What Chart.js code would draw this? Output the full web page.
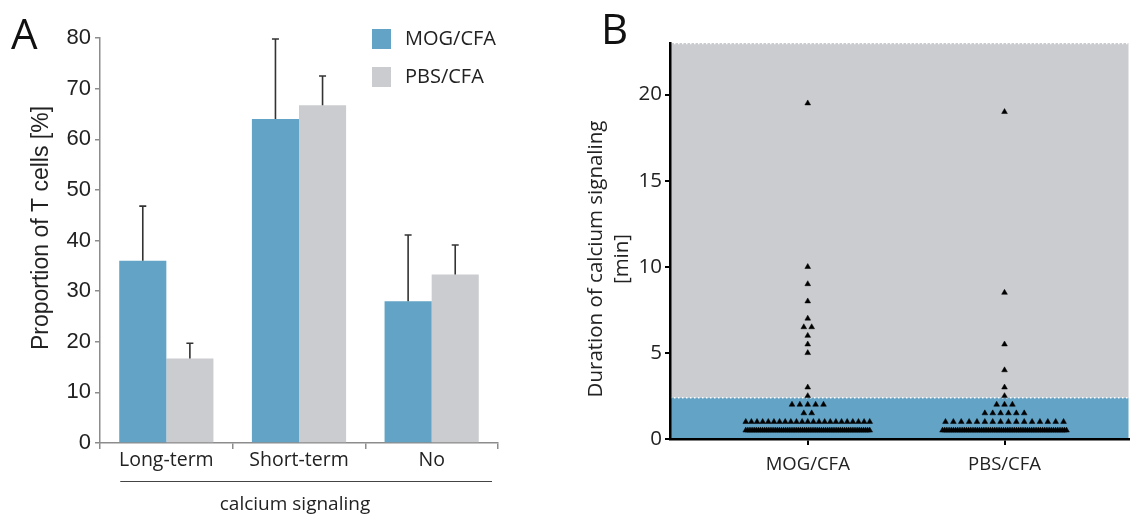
<!DOCTYPE html>
<html>
<head>
<meta charset="utf-8">
<script src="https://cdn.jsdelivr.net/npm/chart.js@4.4.1/dist/chart.umd.min.js"></script>
<style>
  html, body { margin: 0; padding: 0; background: #fff; }
  body { width: 1133px; height: 521px; position: relative; overflow: hidden; }
  .panel { position: absolute; top: 0; height: 521px; }
  #panelA { left: 0; width: 565px; }
  #panelB { left: 565px; width: 568px; }
  .tag { position: absolute; font-family: "Open Sans", sans-serif; font-size: 42px; line-height: 1; color: #111; }
</style>
</head>
<body>
<div class="panel" id="panelA"><canvas id="proportionChart" width="565" height="521"></canvas></div>
<div class="panel" id="panelB"><canvas id="durationChart" width="568" height="521"></canvas></div>
<div class="tag" style="left:11px; top:12px;">A</div>
<div class="tag" style="left:601px; top:7px;">B</div>
<script>
// proportion of T cells per signaling class (mean and SD)
const signalClasses = ['Long-term', 'Short-term', 'No'];
const mogMeans = [36, 64, 28];
const mogSD = [10.8, 15.8, 13.1];
const pbsMeans = [16.7, 66.7, 33.3];
const pbsSD = [3.0, 5.8, 5.8];
const proportionTicks = [0, 10, 20, 30, 40, 50, 60, 70, 80];

// duration of calcium signaling [min]: distinct values and how many cells share each
const groupNames = ['MOG/CFA', 'PBS/CFA'];
const mogDurations = [19.5, 10, 9, 8, 7, 6.5, 6, 5.5, 5, 3, 2.5, 2, 1.5, 1, 0.5];
const mogCounts    = [1,    1,  1, 1, 1, 2,   1, 1,   1, 1, 1,   5, 2,   23, 60];
const pbsDurations = [19, 8.5, 5.5, 4, 3, 2.5, 2, 1.5, 1, 0.5];
const pbsCounts    = [1,  1,   1,   1, 1, 1,   3, 6,   16, 58];
const durationTicks = [0, 5, 10, 15, 20];
const longTermCutoff = 2.4;

const BLUE = '#62a3c6';
const GREY = '#cbcccf';

// ---------- panel A ----------
const errorBars = {
  id: 'errorBars',
  afterDatasetsDraw(chart) {
    const ctx = chart.ctx;
    const y = chart.scales.y;
    const sds = [mogSD, pbsSD];
    ctx.save();
    ctx.strokeStyle = '#333';
    ctx.lineWidth = 1.6;
    chart.data.datasets.forEach((ds, di) => {
      chart.getDatasetMeta(di).data.forEach((bar, i) => {
        const top = y.getPixelForValue(ds.data[i] + sds[di][i]);
        ctx.beginPath();
        ctx.moveTo(bar.x, bar.y);
        ctx.lineTo(bar.x, top);
        ctx.moveTo(bar.x - 3.5, top);
        ctx.lineTo(bar.x + 3.5, top);
        ctx.stroke();
      });
    });
    ctx.restore();
  }
};

const panelADecor = {
  id: 'panelADecor',
  afterDraw(chart) {
    const ctx = chart.ctx;
    const area = chart.chartArea;
    ctx.save();
    // legend
    ctx.font = '20px "Open Sans"';
    ctx.textBaseline = 'middle';
    chart.data.datasets.forEach((ds, i) => {
      const cy = 39 + i * 38;
      ctx.fillStyle = ds.backgroundColor;
      ctx.fillRect(372, cy - 10, 19, 20);
      ctx.fillStyle = '#222';
      ctx.fillText(ds.label, 405, cy);
    });
    // bracket under the categories
    const first = chart.getDatasetMeta(0).data[0];
    const x0 = first.x - first.width / 2 + 1;
    const x1 = area.right - 6;
    ctx.strokeStyle = '#444';
    ctx.lineWidth = 1.2;
    ctx.beginPath();
    ctx.moveTo(x0, 481.5);
    ctx.lineTo(x1, 481.5);
    ctx.stroke();
    ctx.fillStyle = '#222';
    ctx.font = '19px "Open Sans"';
    ctx.textAlign = 'center';
    ctx.fillText('calcium signaling', (area.left + area.right) / 2 - 4, 505);
    // y title
    ctx.translate(42, 228);
    ctx.rotate(-Math.PI / 2);
    ctx.font = '23px "Liberation Sans"';
    ctx.fillText('Proportion of T cells [%]', 0, 0);
    ctx.restore();
  }
};

new Chart(document.getElementById('proportionChart'), {
  type: 'bar',
  data: {
    labels: signalClasses,
    datasets: [
      { label: 'MOG/CFA', data: mogMeans, backgroundColor: BLUE },
      { label: 'PBS/CFA', data: pbsMeans, backgroundColor: GREY }
    ]
  },
  options: {
    responsive: false,
    animation: false,
    events: [],
    categoryPercentage: 0.71,
    barPercentage: 1.0,
    layout: { padding: { top: 38, right: 67, left: 0, bottom: 0 } },
    plugins: { legend: { display: false }, tooltip: { enabled: false } },
    scales: {
      x: {
        afterFit: (s) => { s.height = 78; },
        grid: { drawOnChartArea: false, tickLength: 6, color: '#8c8c8c', lineWidth: 1.5 },
        border: { color: '#8c8c8c', width: 1.5 },
        ticks: { color: '#222', padding: 0, font: { family: 'Open Sans', size: 19.5 } }
      },
      y: {
        min: 0,
        max: 80,
        afterFit: (s) => { s.width = 100; },
        afterBuildTicks: (s) => { s.ticks = proportionTicks.map(v => ({ value: v })); },
        grid: { drawOnChartArea: false, tickLength: 5, color: '#8c8c8c', lineWidth: 1.5 },
        border: { color: '#8c8c8c', width: 1.5 },
        ticks: { color: '#222', padding: 4, font: { family: 'Liberation Sans', size: 22 } }
      }
    }
  },
  plugins: [errorBars, panelADecor]
});

// ---------- panel B ----------
const SWARM_STEP = 0.04;   // spacing between neighbours in a row (x units)
const SWARM_WIDTH = 0.63;  // widest a row may spread

function swarm(center, values, counts) {
  const pts = [];
  values.forEach((v, i) => {
    const n = counts[i];
    const step = n > 1 ? Math.min(SWARM_STEP, SWARM_WIDTH / (n - 1)) : 0;
    for (let k = 0; k < n; k++) {
      pts.push({ x: center + (k - (n - 1) / 2) * step, y: v });
    }
  });
  return pts;
}

const durationBackground = {
  id: 'durationBackground',
  beforeDraw(chart) {
    const ctx = chart.ctx;
    const { left, right, top, bottom } = chart.chartArea;
    const cut = chart.scales.y.getPixelForValue(longTermCutoff);
    ctx.save();
    ctx.fillStyle = GREY;
    ctx.fillRect(left, top, right - left, cut - top);
    ctx.fillStyle = BLUE;
    ctx.fillRect(left, cut, right - left, bottom - cut);
    ctx.strokeStyle = '#ffffff';
    ctx.lineWidth = 1.5;
    ctx.setLineDash([1.5, 2.5]);
    ctx.beginPath();
    ctx.moveTo(left, cut);
    ctx.lineTo(right, cut);
    ctx.moveTo(left, top + 0.5);
    ctx.lineTo(right, top + 0.5);
    ctx.stroke();
    ctx.restore();
  },
  afterDraw(chart) {
    const ctx = chart.ctx;
    ctx.save();
    ctx.fillStyle = '#222';
    ctx.font = '20.5px "Open Sans"';
    ctx.textAlign = 'center';
    ctx.textBaseline = 'middle';
    ctx.translate(31, 259);
    ctx.rotate(-Math.PI / 2);
    ctx.fillText('Duration of calcium signaling', 0, 0);
    ctx.fillText('[min]', 0, 26);
    ctx.restore();
  }
};

new Chart(document.getElementById('durationChart'), {
  type: 'scatter',
  data: {
    datasets: [
      { label: 'MOG/CFA', data: swarm(1, mogDurations, mogCounts) },
      { label: 'PBS/CFA', data: swarm(2, pbsDurations, pbsCounts) }
    ]
  },
  options: {
    responsive: false,
    animation: false,
    events: [],
    layout: { padding: { top: 43, right: 0, left: 0, bottom: 0 } },
    elements: {
      point: { pointStyle: 'triangle', radius: 3.3, backgroundColor: '#000', borderColor: '#000', borderWidth: 0.5 }
    },
    plugins: { legend: { display: false }, tooltip: { enabled: false } },
    scales: {
      x: {
        type: 'linear',
        min: 0.3,
        max: 2.63,
        afterFit: (s) => { s.height = 82; },
        afterBuildTicks: (s) => { s.ticks = groupNames.map((n, i) => ({ value: i + 1 })); },
        grid: { drawOnChartArea: false, tickLength: 6, color: '#000', lineWidth: 2 },
        border: { color: '#000', width: 2.5 },
        ticks: {
          color: '#222', padding: 9, font: { family: 'Open Sans', size: 18.5 },
          callback: (v, i) => groupNames[i]
        }
      },
      y: {
        min: 0,
        max: 23,
        afterFit: (s) => { s.width = 105; },
        afterBuildTicks: (s) => { s.ticks = durationTicks.map(v => ({ value: v })); },
        grid: { drawOnChartArea: false, tickLength: 5, color: '#000', lineWidth: 2 },
        border: { color: '#000', width: 2.5 },
        ticks: { color: '#222', padding: 3, font: { family: 'Open Sans', size: 20.5 } }
      }
    }
  },
  plugins: [durationBackground]
});
</script>
</body>
</html>
